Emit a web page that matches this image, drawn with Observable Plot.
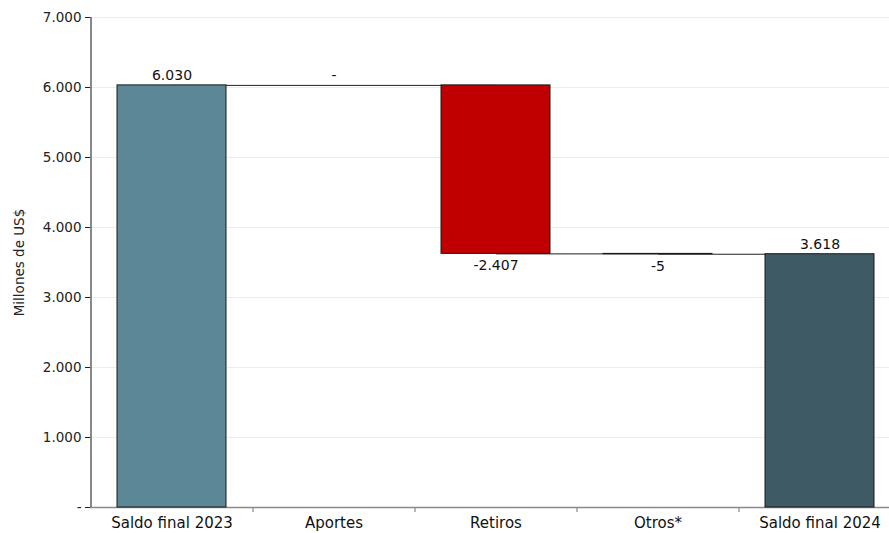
<!DOCTYPE html>
<html><head><meta charset="utf-8">
<script src="https://cdn.jsdelivr.net/npm/d3@7"></script>
<script src="https://cdn.jsdelivr.net/npm/@observablehq/plot@0.6"></script>
<style>
html,body{margin:0;padding:0;background:#fff;overflow:hidden;width:889px;height:533px}
svg{display:block;max-width:none !important}
</style>
</head><body><div id="chart"></div>
<script>
const categories = ["Saldo final 2023", "Aportes", "Retiros", "Otros*", "Saldo final 2024"];
const values = [6030, 0, -2407, -5, 3618];
const kinds = ["total", "delta", "delta", "delta", "total"];
const valueLabels = ["6.030", "-", "-2.407", "-5", "3.618"];
const yTicks = [0, 1000, 2000, 3000, 4000, 5000, 6000, 7000];
const yTickLabels = ["-", "1.000", "2.000", "3.000", "4.000", "5.000", "6.000", "7.000"];
const yTitle = "Millones de US$";

// build waterfall rows
let level = 0;
const rows = categories.map((c, i) => {
  let start, end;
  if (kinds[i] === "total") { start = 0; end = values[i]; }
  else { start = level; end = level + values[i]; }
  level = end;
  return {cat: c, start, end, value: values[i], kind: kinds[i], label: valueLabels[i], idx: i};
});
const connectors = rows.slice(0, -1).map((r, i) => ({from: r.cat, to: rows[i + 1].cat, y: r.end}));

const fillFor = r => r.idx === 0 ? "#5b8796" : r.idx === rows.length - 1 ? "#3e5a65" : r.value < 0 && r.value > -100 ? "#1a1a1a" : r.value < 0 ? "#c00000" : "#ffffff";

const font = "DejaVu Sans, sans-serif";
const chart = Plot.plot({
  width: 900,
  height: 533,
  marginLeft: 90,
  marginRight: 0,
  marginTop: 17,
  marginBottom: 26,
  style: {fontFamily: font, fontSize: "13px", color: "#222", background: "#fff", maxWidth: "none"},
  x: {domain: categories, paddingInner: 0.33, paddingOuter: 0.165, label: null},
  y: {domain: [0, 7000], label: null},
  marks: [
    Plot.gridY(yTicks, {stroke: "#ececec", strokeOpacity: 1}),
    Plot.axisY(yTicks, {tickFormat: d => yTickLabels[yTicks.indexOf(d)], tickSize: 5, tickPadding: 4, fontSize: 13.5, stroke: "#222", label: yTitle, labelAnchor: "center", labelOffset: 76, labelArrow: "none"}),
    Plot.axisX({tickSize: 0, tickPadding: 10, fontSize: 15, fill: "#111", label: null}),
    Plot.ruleY([0], {stroke: "#8a8a8a", strokeWidth: 1.5}),
    Plot.ruleX(categories.slice(0, -1), {y1: 0, y2: -70, dx: 81, stroke: "#8a8a8a", strokeWidth: 1.2}),
    Plot.ruleX([categories[0]], {y1: 0, y2: 7000, dx: -81, stroke: "#111", strokeWidth: 1}),
    Plot.link(connectors, {x1: "from", x2: "to", y1: "y", y2: "y", stroke: "#222", strokeWidth: 1}),
    Plot.barY(rows, {x: "cat", y1: "start", y2: "end", fill: fillFor, stroke: "#1a1a1a", strokeWidth: 1}),
    Plot.text(rows, {
      x: "cat",
      y: r => Math.max(r.start, r.end),
      text: "label",
      fontSize: 14,
      fill: "#111",
      lineAnchor: "middle",
      filter: r => r.value >= 0,
      dy: -10
    }),
    Plot.text(rows, {
      x: "cat",
      y: r => Math.min(r.start, r.end),
      text: "label",
      fontSize: 14,
      fill: "#111",
      lineAnchor: "middle",
      filter: r => r.value < 0,
      dy: 12
    })
  ]
});
document.getElementById("chart").appendChild(chart);
</script>
</body></html>
